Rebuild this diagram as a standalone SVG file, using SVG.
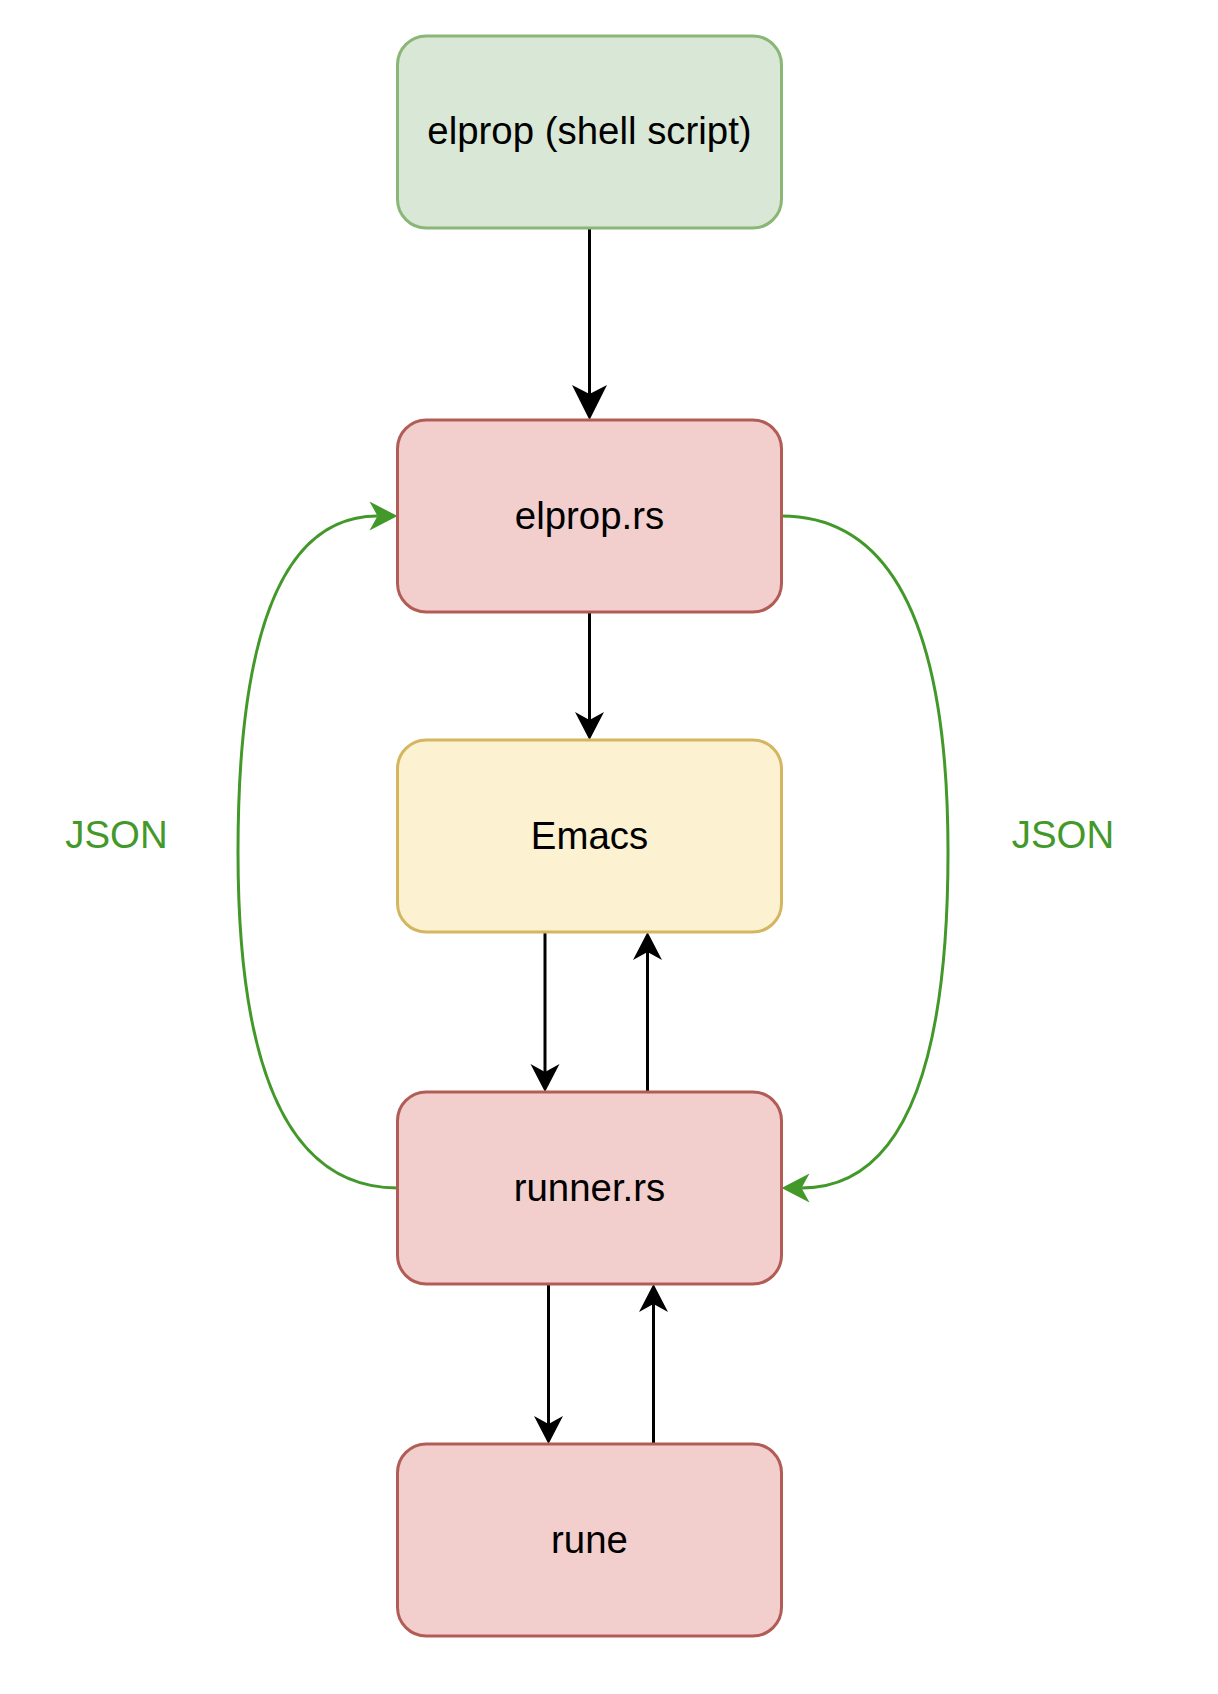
<svg xmlns="http://www.w3.org/2000/svg" width="1218" height="1694" viewBox="0 0 1218 1694">
<style>
.node rect{stroke-width:3}
.green rect{fill:#d9e7d6;stroke:#8ab676}
.red rect{fill:#f2cfcd;stroke:#b25c56}
.yellow rect{fill:#fcf2d1;stroke:#d4b661}
.node text{font-family:"Liberation Sans",Arial,Helvetica,sans-serif;font-size:38.4px;fill:#000;text-anchor:middle}
.lbl{font-family:"Liberation Sans",Arial,Helvetica,sans-serif;font-size:38.4px;fill:#43982a;text-anchor:middle}
.edge{fill:none;stroke:#000;stroke-width:3}
.gedge{fill:none;stroke:#43982a;stroke-width:3}
</style>
<defs>
<marker id="bigArrow" markerUnits="userSpaceOnUse" markerWidth="40" markerHeight="40" refX="0" refY="0" orient="auto" overflow="visible">
<path d="M26,0 L-9,-17.5 L0,0 L-9,17.5 Z" fill="#000"/>
</marker>
<marker id="arrow" markerUnits="userSpaceOnUse" markerWidth="30" markerHeight="30" refX="0" refY="0" orient="auto" overflow="visible">
<path d="M20,0 L-8,-14.5 L0,0 L-8,14.5 Z" fill="#000"/>
</marker>
<marker id="garrow" markerUnits="userSpaceOnUse" markerWidth="30" markerHeight="30" refX="0" refY="0" orient="auto" overflow="visible">
<path d="M20,0 L-8,-14.5 L0,0 L-8,14.5 Z" fill="#43982a"/>
</marker>
</defs>
<rect width="1218" height="1694" fill="#fff"/>
<g id="connectors">
<path class="edge" d="M589.5 228 L589.5 394" marker-end="url(#bigArrow)"/>
<path class="edge" d="M589.5 612 L589.5 720" marker-end="url(#arrow)"/>
<path class="edge" d="M545 932 L545 1072" marker-end="url(#arrow)"/>
<path class="edge" d="M647.5 1092 L647.5 952" marker-end="url(#arrow)"/>
<path class="edge" d="M548.5 1284 L548.5 1424" marker-end="url(#arrow)"/>
<path class="edge" d="M653.5 1444 L653.5 1304" marker-end="url(#arrow)"/>
<path class="gedge" d="M397.5 1188 Q238 1188 238 852 Q238 516 377.5 516" marker-end="url(#garrow)"/>
<path class="gedge" d="M781.5 516 Q948 516 948 852 Q948 1188 801.5 1188" marker-end="url(#garrow)"/>
<text class="lbl" x="116.5" y="848">JSON</text>
<text class="lbl" x="1063" y="848">JSON</text>
</g>
<g id="shell" class="node green">
<rect x="397.5" y="36" width="384" height="192" rx="28.8" ry="28.8"/>
<text x="589.5" y="144">elprop (shell script)</text>
</g>
<g id="elprop-rs" class="node red">
<rect x="397.5" y="420" width="384" height="192" rx="28.8" ry="28.8"/>
<text x="589.5" y="529">elprop.rs</text>
</g>
<g id="emacs" class="node yellow">
<rect x="397.5" y="740" width="384" height="192" rx="28.8" ry="28.8"/>
<text x="589.5" y="849">Emacs</text>
</g>
<g id="runner-rs" class="node red">
<rect x="397.5" y="1092" width="384" height="192" rx="28.8" ry="28.8"/>
<text x="589.5" y="1201">runner.rs</text>
</g>
<g id="rune" class="node red">
<rect x="397.5" y="1444" width="384" height="192" rx="28.8" ry="28.8"/>
<text x="589.5" y="1553">rune</text>
</g>
</svg>
